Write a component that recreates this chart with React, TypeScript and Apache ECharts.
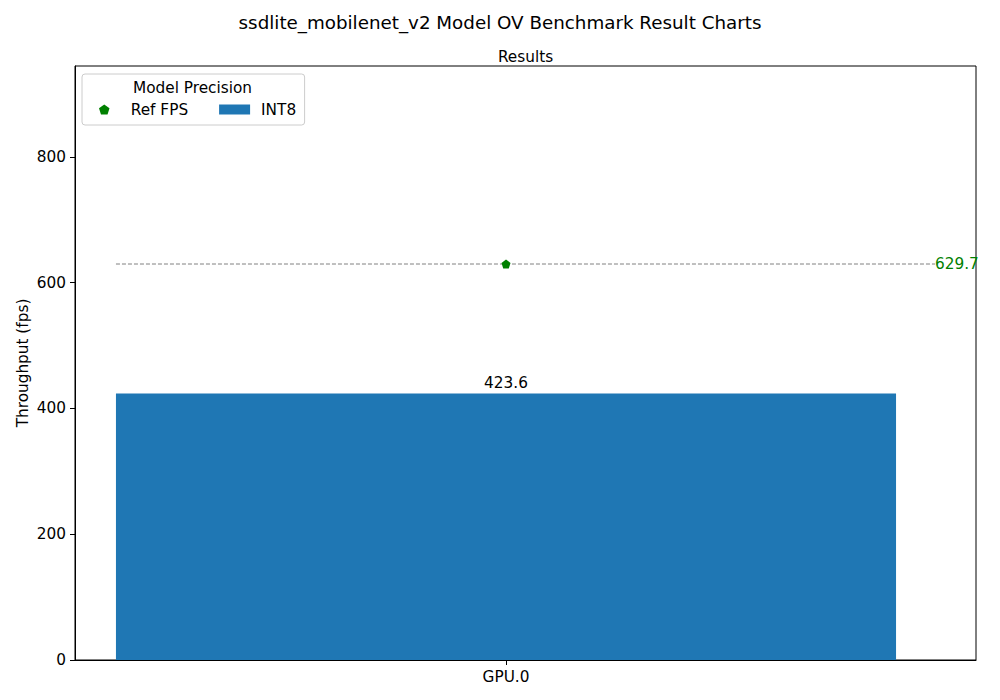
import { useEffect, useRef } from 'react';
import * as echarts from 'echarts';

const FONT = 'DejaVu Sans';
const FS = 15.3;
const BLUE = '#1f77b4';
const GREEN = '#008000';

const devices = ['GPU.0'];
const int8Fps = [423.6];
const refFps = [629.7];
const yTicks = [0, 200, 400, 600, 800];

const PENTAGON =
  'path://M0,-1 L0.951,-0.309 L0.588,0.809 L-0.588,0.809 L-0.951,-0.309 Z';

/** Benchmark result: one INT8 throughput bar per device,
 *  with the reference fps as a marker and a dashed line. */
export default function App() {
  const ref = useRef<HTMLDivElement | null>(null);

  useEffect(() => {
    if (!ref.current) return;
    document.body.style.margin = '0';
    const chart = echarts.init(ref.current, null, { renderer: 'svg' });

    const yMax = Math.max(...refFps, ...int8Fps) * 1.5;
    const half = 0.4; // bar half width, in x units

    chart.setOption({
      animation: false,
      textStyle: { fontFamily: FONT },
      title: {
        text: 'ssdlite_mobilenet_v2 Model OV Benchmark Result Charts',
        left: 'center',
        top: 13,
        padding: 0,
        textStyle: { fontFamily: FONT, fontSize: 18.3, fontWeight: 'normal', color: '#000' },
      },
      graphic: [
        {
          type: 'text',
          x: 525.5,
          y: 57,
          style: {
            text: 'Results',
            font: `${FS}px "${FONT}"`,
            fill: '#000',
            align: 'center',
            verticalAlign: 'middle',
          },
        },
        {
          type: 'text',
          x: 192.5,
          y: 88,
          z: 100,
          style: {
            text: 'Model Precision',
            font: `${FS}px "${FONT}"`,
            fill: '#000',
            align: 'center',
            verticalAlign: 'middle',
          },
        },
      ],
      legend: {
        left: 82,
        top: 74,
        // the first icon's bounding box starts at the pentagon, not the item box
        padding: [28, 8.5, 8, 17],
        itemWidth: 31,
        itemHeight: 10,
        itemGap: 31,
        borderColor: '#cccccc',
        borderWidth: 1,
        borderRadius: 3,
        backgroundColor: 'rgba(255,255,255,0.8)',
        textStyle: { fontFamily: FONT, fontSize: FS, color: '#000', padding: [0, 0, 0, 6] },
        data: [
          { name: 'Ref FPS', icon: PENTAGON },
          { name: 'INT8', icon: 'rect' },
        ],
      },
      grid: {
        left: 75,
        right: 24,
        top: 66,
        bottom: 40,
        show: true,
        borderColor: '#000',
        borderWidth: 1,
      },
      xAxis: {
        type: 'value',
        min: -0.442,
        max: 0.482,
        splitLine: { show: false },
        axisLine: { show: true, onZero: false, lineStyle: { color: '#000' } },
        axisTick: {
          show: true,
          customValues: devices.map((_, i) => i),
          length: 5,
          lineStyle: { color: '#000' },
        },
        axisLabel: {
          customValues: devices.map((_, i) => i),
          formatter: (v: number) => devices[Math.round(v)] ?? '',
          color: '#000',
          fontSize: FS,
          fontFamily: FONT,
          margin: 9,
        },
      },
      yAxis: {
        type: 'value',
        min: 0,
        max: yMax,
        interval: 200,
        name: 'Throughput (fps)',
        nameLocation: 'middle',
        nameGap: 45,
        nameMoveOverlap: false,
        nameTextStyle: { fontFamily: FONT, fontSize: FS, color: '#000' },
        splitLine: { show: false },
        axisLine: { show: true, onZero: false, lineStyle: { color: '#000' } },
        axisTick: { show: true, length: 5, lineStyle: { color: '#000' } },
        axisLabel: {
          color: '#000',
          fontSize: FS,
          fontFamily: FONT,
          margin: 9,
          showMaxLabel: false,
          formatter: (v: number) => (yTicks.includes(v) ? String(v) : ''),
        },
      },
      series: [
        {
          name: 'INT8',
          type: 'custom',
          itemStyle: { color: BLUE },
          data: int8Fps.map((v, i) => [i, v]),
          renderItem: (params: any, api: any) => {
            const x = api.value(0);
            const v = api.value(1);
            const tl = api.coord([x - half, v]);
            const br = api.coord([x + half, 0]);
            const top = api.coord([x, v]);
            return {
              type: 'group',
              children: [
                {
                  type: 'rect',
                  shape: { x: tl[0], y: tl[1], width: br[0] - tl[0], height: br[1] - tl[1] },
                  style: { fill: BLUE },
                },
                {
                  type: 'text',
                  x: top[0],
                  y: top[1] - 3,
                  style: {
                    text: v.toFixed(1),
                    font: `${FS}px "${FONT}"`,
                    fill: '#000',
                    align: 'center',
                    verticalAlign: 'bottom',
                  },
                },
              ],
            };
          },
        },
        {
          name: 'refLine',
          type: 'line',
          showSymbol: false,
          symbol: 'none',
          silent: true,
          lineStyle: { color: '#808080', width: 1, type: [4, 2] },
          data: [
            [-half, refFps[0]],
            [0.44, refFps[0]],
          ],
          endLabel: {
            show: true,
            formatter: () => refFps[0].toFixed(1),
            color: GREEN,
            fontSize: FS,
            fontFamily: FONT,
            distance: 0,
          },
          z: 3,
        },
        {
          name: 'Ref FPS',
          type: 'scatter',
          symbol: PENTAGON,
          symbolSize: 9,
          itemStyle: { color: GREEN, opacity: 1 },
          data: refFps.map((v, i) => [i, v]),
          z: 4,
        },
      ],
    });

    return () => chart.dispose();
  }, []);

  return <div ref={ref} style={{ width: 1000, height: 700 }} />;
}
